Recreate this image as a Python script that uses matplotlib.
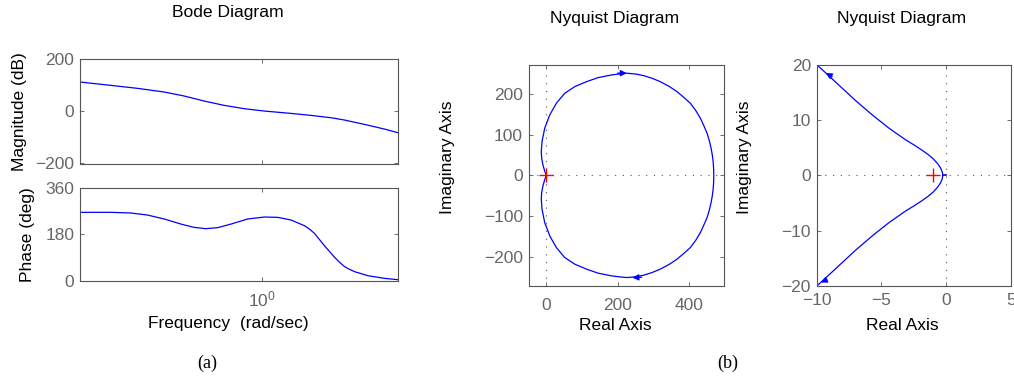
import numpy as np
import matplotlib
matplotlib.use('Agg')
import matplotlib.pyplot as plt
from matplotlib.ticker import NullLocator

plt.rcParams['font.family'] = ['Liberation Sans', 'DejaVu Sans']

# Bode magnitude (log10 of frequency, dB)
mag_logw = [-0.8, -0.665, -0.547, -0.429, -0.341, -0.253, -0.165, -0.076,
            0.012, 0.129, 0.218, 0.306, 0.365, 0.453, 0.541, 0.6]
mag_db = [112.8, 100, 88.5, 74.4, 59, 39.7, 23.1, 10.3,
          1.3, -7.7, -15.4, -24.4, -33.3, -50, -67.9, -82]

# Bode phase (log10 of frequency, degrees)
phase_logw = [-0.8, -0.665, -0.576, -0.503, -0.429, -0.356, -0.297, -0.246,
              -0.194, -0.135, -0.062, 0.012, 0.071, 0.129, 0.188, 0.21, 0.232,
              0.276, 0.321, 0.343, 0.365, 0.387, 0.409, 0.468, 0.541, 0.6]
phase_deg = [265.5, 265.5, 262.9, 255, 239.6, 220, 207, 202,
             206, 220, 239.6, 247.3, 246, 235.7, 213.7, 200.7, 184,
             136, 90.7, 71.2, 54.4, 44, 35, 19.4, 9, 3.9]

# Nyquist (full view), upper branch; lower branch is its mirror image
nyq1_re = [0, -5, -9.3, -13, -14.1, -12.1, -4.5, 9.6, 28.2, 51.8, 80, 112.7,
           145.6, 183.1, 210, 226.5, 250, 273.2, 297, 320.3, 345, 367.3, 387,
           404.8, 420, 433, 443, 451.8, 458, 463, 466.3, 468.7, 470, 470.4]
nyq1_im = [0, 12, 25.3, 42, 58, 82.6, 115.6, 148.3, 177, 201.6, 217.9, 230,
           240, 246.6, 249.5, 250.8, 249, 245, 238.5, 230, 218.5, 205.6, 191,
           177, 159, 140, 121, 103, 85, 66.4, 50, 33.4, 17, 0]
nyq1_arrows = [((200, 251), (226, 251)), ((268, -250), (242, -251))]

# Nyquist (zoomed view), upper branch
nyq2_re = [-0.26, -0.3, -0.42, -0.65, -0.98, -1.4, -1.88, -2.5, -3.09, -4.38,
           -5.67, -6.96, -8.25, -9.28, -10.1]
nyq2_im = [0, 0.6, 1.3, 2.1, 2.97, 3.8, 4.6, 5.55, 6.39, 8.5,
           10.9, 13.5, 16.3, 18.55, 20.3]
nyq2_arrows = [((-8.8, 17.9), (-9.28, 18.55)), ((-9.2, -18.9), (-9.66, -19.4))]

critical_point = (-1, 0)

spine_c = '#555555'
label_c = '#666666'
fs = 12.5
dots = (0, (1, 6))

fig = plt.figure(figsize=(10.14, 3.77), dpi=100)
W, H = 1014.0, 377.0


def add_ax(left, top, right, bottom):
    return fig.add_axes([left / W, 1 - bottom / H, (right - left) / W, (bottom - top) / H])


def style(ax):
    for s in ax.spines.values():
        s.set_color(spine_c)
        s.set_linewidth(0.8)
    ax.tick_params(direction='in', top=True, right=True, length=3, width=0.6,
                   colors=spine_c, labelcolor=label_c, labelsize=fs)


ax_m = add_ax(80, 59.3, 398, 163.5)
ax_p = add_ax(80, 188, 398, 280.7)
ax_n1 = add_ax(528.5, 65, 724.3, 285.8)
ax_n2 = add_ax(816.5, 65, 1011, 285.8)

# Bode magnitude
ax_m.semilogx(np.power(10.0, mag_logw), mag_db, color='b', lw=0.9)
ax_m.set_ylim(-200, 200)
ax_m.set_yticks([-200, 0, 200])
# Bode phase
ax_p.semilogx(np.power(10.0, phase_logw), phase_deg, color='b', lw=0.9)
ax_p.set_ylim(0, 360)
ax_p.set_yticks([0, 180, 360])
for ax in (ax_m, ax_p):
    style(ax)
    ax.set_xlim(10 ** -0.8, 10 ** 0.6)
    ax.set_xticks([1])
    ax.xaxis.set_minor_locator(NullLocator())
    ax.tick_params(axis='y', pad=4)
ax_m.tick_params(labelbottom=False)
ax_p.tick_params(axis='x', pad=6)
ax_m.set_ylabel('Magnitude (dB)', fontsize=fs)
ax_m.yaxis.set_label_coords(-0.167, 0.5)
ax_p.set_ylabel('Phase (deg)', fontsize=fs)
ax_p.yaxis.set_label_coords(-0.142, 0.5)
ax_p.set_xlabel('Frequency  (rad/sec)', fontsize=fs)
ax_p.xaxis.set_label_coords(0.467, -0.38)

# Nyquist full
re1 = np.array(nyq1_re)
im1 = np.array(nyq1_im)
re1_full = np.concatenate([re1, re1[::-1]])
im1_full = np.concatenate([im1, -im1[::-1]])
ax_n1.axhline(0, color=spine_c, ls=dots, lw=0.8)
ax_n1.axvline(0, color=spine_c, ls=dots, lw=0.8)
ax_n1.plot(re1_full, im1_full, color='b', lw=0.9)
for tail, tip in nyq1_arrows:
    ax_n1.annotate('', xy=tip, xytext=tail,
                   arrowprops=dict(arrowstyle='-|>', color='b', lw=0.9, mutation_scale=9,
                                   shrinkA=0, shrinkB=0))
ax_n1.plot(*critical_point, marker='+', color='r', ms=10, mew=1)
ax_n1.set_xlim(-50, 500)
ax_n1.set_ylim(-271, 271)
ax_n1.set_xticks([0, 200, 400])
ax_n1.set_yticks([-200, -100, 0, 100, 200])
style(ax_n1)
ax_n1.tick_params(axis='x', pad=9)
ax_n1.tick_params(axis='y', pad=4)

# Nyquist zoomed
re2 = np.array(nyq2_re)
im2 = np.array(nyq2_im)
re2_full = np.concatenate([re2[::-1], re2])
im2_full = np.concatenate([im2[::-1], -im2])
ax_n2.axhline(0, color=spine_c, ls=dots, lw=0.8)
ax_n2.axvline(0, color=spine_c, ls=dots, lw=0.8)
ax_n2.plot(re2_full, im2_full, color='b', lw=0.9)
ax_n2.plot([re2[0], 0], [0, 0], color='b', lw=1.2)
for tail, tip in nyq2_arrows:
    ax_n2.annotate('', xy=tip, xytext=tail,
                   arrowprops=dict(arrowstyle='-|>', color='b', lw=0.9, mutation_scale=9,
                                   shrinkA=0, shrinkB=0))
ax_n2.plot(*critical_point, marker='+', color='r', ms=10, mew=1)
ax_n2.set_xlim(-10, 5)
ax_n2.set_ylim(-20, 20)
ax_n2.set_xticks([-10, -5, 0, 5])
ax_n2.set_yticks([-20, -10, 0, 10, 20])
style(ax_n2)
ax_n2.tick_params(axis='x', pad=5)
ax_n2.tick_params(axis='y', pad=4)

for ax in (ax_n1, ax_n2):
    ax.set_xlabel('Real Axis', fontsize=fs)
    ax.xaxis.set_label_coords(0.442, -0.146)
    ax.set_ylabel('Imaginary Axis', fontsize=fs)
ax_n1.yaxis.set_label_coords(-0.375, 0.581)
ax_n2.yaxis.set_label_coords(-0.333, 0.581)

# titles
fig.text(228 / W, 1 - 17.3 / H, 'Bode Diagram', ha='center', va='baseline', fontsize=12.6)
fig.text(615 / W, 1 - 23.3 / H, 'Nyquist Diagram', ha='center', va='baseline', fontsize=12.6)
fig.text(902 / W, 1 - 23.3 / H, 'Nyquist Diagram', ha='center', va='baseline', fontsize=12.6)

# panel captions
fig.text(207 / W, 1 - 363 / H, '(a)', ha='center', va='center', fontsize=13,
         family='Liberation Serif')
fig.text(728 / W, 1 - 363 / H, '(b)', ha='center', va='center', fontsize=13,
         family='Liberation Serif')

fig.savefig('out.png', dpi=100)
